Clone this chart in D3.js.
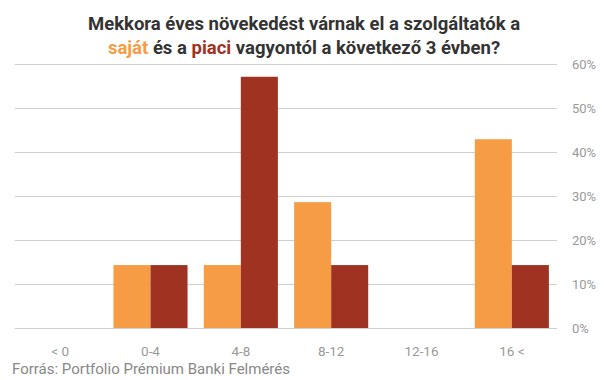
<!DOCTYPE html>
<html><head><meta charset="utf-8">
<script src="https://cdn.jsdelivr.net/npm/d3@7"></script>
<style>body{margin:0;background:#fff;font-family:Roboto,sans-serif}</style>
</head><body><svg id="c" width="607" height="380"></svg>
<script>
const categories = ["< 0","0-4","4-8","8-12","12-16","16 <"];
const sajat = [0, 14.3, 14.3, 28.6, 0, 42.9];
const piaci = [0, 14.3, 57.1, 14.3, 0, 14.3];
const yTicks = [0,10,20,30,40,50,60];
const seriesNames = ["saját","piaci"];
const colors = ["#F59C45","#A03222"];

const svg = d3.select("#c");
const x = d3.scaleBand().domain(categories).range([15,557]).paddingInner(0.18).paddingOuter(0.09);
const xs = d3.scaleBand().domain(seriesNames).range([0,x.bandwidth()]);
const y = d3.scaleLinear().domain([0,60]).range([328,64]);

// gridlines
svg.append("g").selectAll("line").data(yTicks).join("line")
  .attr("x1",15).attr("x2",557).attr("y1",d=>y(d)+0.5).attr("y2",d=>y(d)+0.5)
  .attr("stroke","#d0d0d0").attr("stroke-width",1);

// y labels
svg.append("g").selectAll("text").data(yTicks).join("text")
  .attr("x",572).attr("y",d=>y(d)).attr("dy","0.35em")
  .attr("font-size",13).attr("fill","#999").text(d=>d+"%");

// bars
const data = [sajat,piaci];
data.forEach((vals,si)=>{
  svg.append("g").selectAll("rect").data(vals).join("rect")
    .attr("x",(d,i)=>x(categories[i])+xs(seriesNames[si]))
    .attr("width",xs.bandwidth())
    .attr("y",d=>y(d)).attr("height",d=>y(0)-y(d))
    .attr("fill",colors[si]);
});

// x labels
svg.append("g").selectAll("text").data(categories).join("text")
  .attr("x",d=>x(d)+x.bandwidth()/2).attr("y",356)
  .attr("text-anchor","middle").attr("font-size",13.5).attr("fill","#999").text(d=>d);

// title
const t1 = svg.append("text").attr("x",304).attr("y",30).attr("text-anchor","middle")
  .attr("font-size",18.5).attr("font-weight","bold").attr("fill","#333");
t1.text("Mekkora éves növekedést várnak el a szolgáltatók a");
const t2 = svg.append("text").attr("x",304).attr("y",54).attr("text-anchor","middle")
  .attr("font-size",18.5).attr("font-weight","bold").attr("fill","#333");
t2.append("tspan").attr("fill",colors[0]).text("saját");
t2.append("tspan").text(" és a ");
t2.append("tspan").attr("fill",colors[1]).text("piaci");
t2.append("tspan").text(" vagyontól a következő 3 évben?");

// footer
svg.append("text").attr("x",12).attr("y",374).attr("font-size",15).attr("fill","#888")
  .text("Forrás: Portfolio Prémium Banki Felmérés");
</script></body></html>
